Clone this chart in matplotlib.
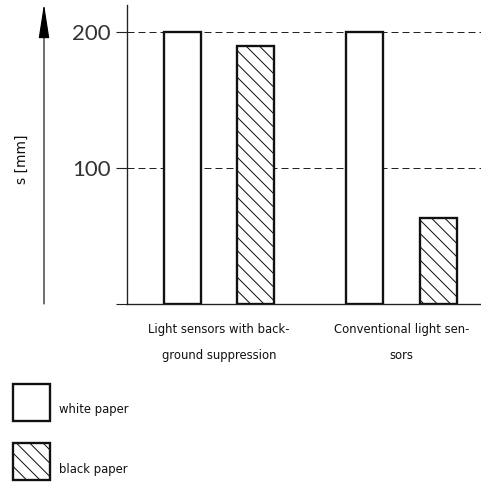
import matplotlib
matplotlib.use("Agg")
import matplotlib.pyplot as plt
from matplotlib.patches import Rectangle, FancyArrowPatch

# Detection range data
groups = ["Light sensors with back-\nground suppression", "Conventional light sen-\nsors"]
series = ["white paper", "black paper"]
white_vals = [200, 200]
black_vals = [190, 63]
y_ticks = [0, 100, 200]
y_ticklabels = ["", "100", "200"]
y_label = "s [mm]"

W, H, DPI = 481, 483, 80
plt.rcParams["hatch.linewidth"] = 0.9
narrow = ["Liberation Sans Narrow", "DejaVu Sans"]

fig = plt.figure(figsize=(W / DPI, H / DPI), dpi=DPI)
# axes frame in pixel terms: left edge at x=127, baseline at y=304, top at y=5
ax = fig.add_axes([127 / W, (H - 304) / H, (W - 127) / W, 299 / H])
ax.set_ylim(0, 299 / 1.36)

group_step = 1.0
bar_w = 0.2025
offset = 0.2
xs = [1 + i * group_step for i in range(len(groups))]
ax.set_xlim(1 - 91.75 / 182.75, 1 + (354 - 91.75) / 182.75)

edge = "#111111"
hatch_black = "\\\\"
ax.bar([x - offset for x in xs], white_vals, width=bar_w, facecolor="white",
       edgecolor=edge, linewidth=2.1, zorder=3)
ax.bar([x + offset for x in xs], black_vals, width=bar_w, facecolor="white",
       edgecolor=edge, linewidth=2.1, hatch=hatch_black, zorder=3)

# dashed reference lines
for v in y_ticks:
    if v:
        ax.axhline(v, color="#222222", linestyle=(0, (7, 4)), linewidth=0.9, zorder=1)

ax.set_yticks(y_ticks)
ax.set_yticklabels(y_ticklabels, fontsize=20, family=["Lato", "DejaVu Sans"],
                   color="#333333")
ax.tick_params(axis="y", length=9.5, width=1.0, color="#222222", pad=5)
ax.set_xticks(xs)
ax.set_xticklabels(groups, fontsize=10.5, family=narrow, linespacing=2.35,
                   color="#111111")
ax.tick_params(axis="x", length=0, pad=17)
for s in ("top", "right"):
    ax.spines[s].set_visible(False)
ax.spines["left"].set_color("#222222")
ax.spines["left"].set_linewidth(1.2)
ax.spines["bottom"].set_color("#222222")
ax.spines["bottom"].set_linewidth(1.2)

# axis arrow and label
px = lambda x, y: (x / W, 1 - y / H)
arr = FancyArrowPatch(px(44, 304), px(44, 4), transform=fig.transFigure,
                      arrowstyle="-|>,head_length=2.7,head_width=0.42",
                      mutation_scale=10, color="black", linewidth=1.0,
                      shrinkA=0, shrinkB=0)
fig.add_artist(arr)
fig.text(*px(22, 159), y_label, rotation=90, ha="center", va="center",
         fontsize=12.5, family=narrow, color="#111111")

# legend swatches
hatches = ["", hatch_black]
tops = [384, 443]
for name, hatch, top in zip(series, hatches, tops):
    x0, y0 = px(13, top + 37)
    fig.add_artist(Rectangle((x0, y0), 37 / W, 37 / H, transform=fig.transFigure,
                             facecolor="white", edgecolor=edge, linewidth=2.1,
                             hatch=hatch))
    fig.text(*px(59, top + 26), name, ha="left", va="center", fontsize=10.5,
             family=narrow, color="#111111")

fig.savefig("out.png", dpi=DPI)
